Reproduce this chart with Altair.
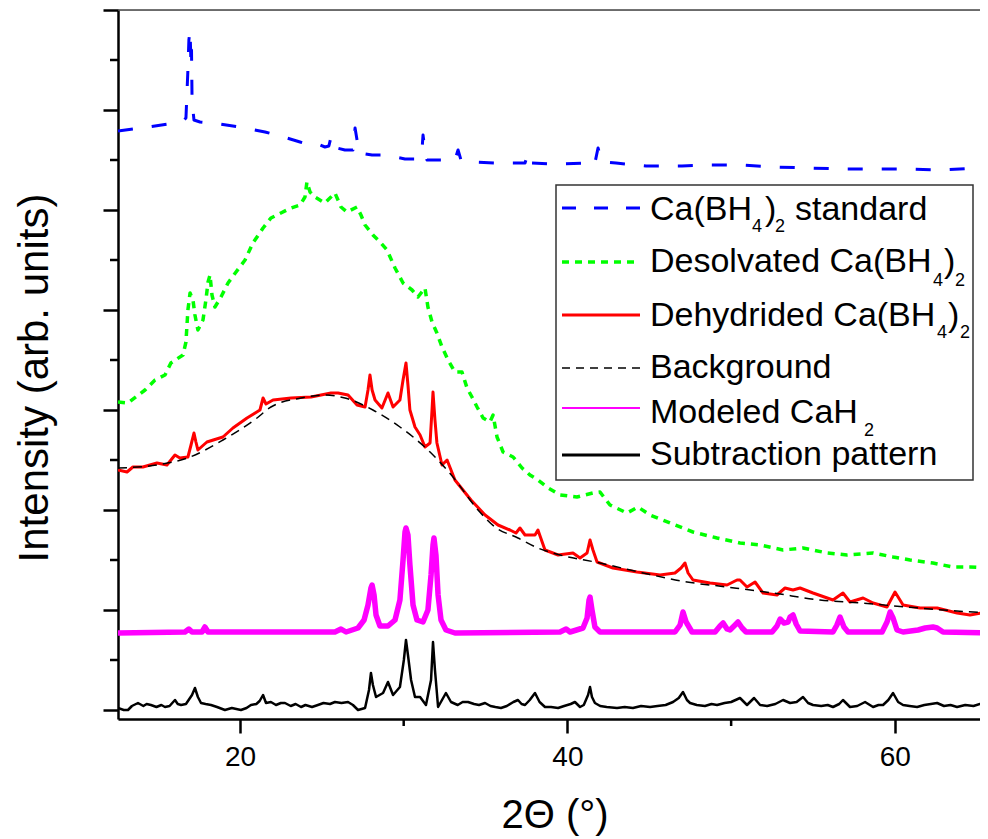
import altair as alt
import pandas as pd

# ---------------- data (2-theta in degrees, intensity in arb. units) ----------------
std_x = [12.55, 14.4, 16.03, 16.52, 16.70, 16.82, 16.88, 16.95, 17.01, 17.04, 17.07, 17.13, 17.19, 17.56, 18.78,
         20.31, 21.53, 22.45, 23.67, 24.28, 24.76, 25.19, 25.43, 25.56, 25.68, 26.41, 26.90, 27.03, 27.15, 27.33,
         28.07, 28.86, 30.08, 30.87, 31.12, 31.18, 31.30, 31.42, 32.22, 33.13, 33.32, 33.50, 34.24, 35.58, 36.37,
         37.41, 37.60, 37.78, 39.06, 39.73, 41.08, 41.50, 41.68, 41.87, 41.99, 42.18, 42.97, 44.80, 47.00, 48.71,
         50.61, 52.62, 54.76, 56.78, 58.79, 60.93, 62.94, 65.02, 65.69]
std_y = [5.79, 5.83, 5.87, 5.89, 5.92, 6.40, 6.70, 6.80, 6.45, 6.60, 6.15, 6.00, 5.90, 5.88, 5.86,
         5.82, 5.78, 5.74, 5.68, 5.65, 5.66, 5.63, 5.64, 5.73, 5.63, 5.60, 5.60, 5.82, 5.70, 5.57,
         5.55, 5.55, 5.51, 5.51, 5.60, 5.75, 5.60, 5.50, 5.50, 5.50, 5.60, 5.50, 5.48, 5.47, 5.47,
         5.47, 5.57, 5.47, 5.46, 5.46, 5.47, 5.50, 5.47, 5.62, 5.55, 5.48, 5.47, 5.44, 5.44, 5.45,
         5.45, 5.43, 5.42, 5.41, 5.41, 5.41, 5.40, 5.42, 5.40]

desolv_x = [12.55, 13.16, 14.20, 14.81, 15.42, 15.78, 16.52, 16.70, 16.82, 16.95, 17.13, 17.25, 17.43, 17.74,
            17.92, 18.05, 18.17, 18.29, 18.47, 18.84, 19.27, 19.76, 20.31, 20.79, 21.41, 21.89, 22.50, 23.12,
            23.67, 23.97, 24.09, 24.28, 24.58, 25.19, 25.80, 26.17, 26.54, 27.15, 27.39, 27.64, 28.12, 28.55,
            28.98, 29.47, 29.96, 30.51, 30.87, 31.30, 31.48, 31.73, 32.03, 32.34, 32.71, 33.13, 33.56, 33.87,
            34.17, 34.48, 34.85, 35.27, 35.46, 35.70, 36.07, 36.68, 37.23, 37.71, 38.20, 38.82, 39.55, 40.58,
            41.56, 41.99, 42.60, 43.64, 44.31, 45.05, 46.27, 47.67, 49.14, 50.54, 51.77, 53.17, 54.39, 55.86,
            57.08, 58.67, 59.89, 60.93, 62.33, 63.55, 64.59, 65.69]
desolv_y = [3.08, 3.07, 3.20, 3.30, 3.35, 3.47, 3.55, 3.68, 4.00, 4.17, 4.10, 3.95, 3.80, 3.90,
            4.10, 4.28, 4.35, 4.15, 4.03, 4.13, 4.27, 4.38, 4.50, 4.67, 4.82, 4.92, 4.97, 5.02,
            5.05, 5.13, 5.28, 5.18, 5.13, 5.07, 5.17, 5.03, 4.98, 5.03, 4.95, 4.85, 4.75, 4.68,
            4.60, 4.42, 4.27, 4.20, 4.13, 4.22, 4.03, 3.88, 3.77, 3.63, 3.50, 3.38, 3.38, 3.22,
            3.13, 3.03, 2.92, 2.88, 2.95, 2.73, 2.58, 2.53, 2.42, 2.35, 2.30, 2.22, 2.15, 2.13,
            2.17, 2.18, 2.05, 1.97, 2.03, 1.95, 1.87, 1.78, 1.72, 1.67, 1.65, 1.60, 1.62, 1.57,
            1.55, 1.57, 1.53, 1.50, 1.47, 1.43, 1.43, 1.42]

dehyd_x = [12.55, 13.10, 13.46, 14.07, 14.93, 15.54, 16.03, 16.33, 16.82, 17.01, 17.19, 17.31, 17.43, 17.98,
           18.96, 19.57, 20.43, 21.22, 21.41, 21.59, 22.02, 23.12, 24.34, 25.56, 25.99, 26.60, 27.15, 27.64,
           27.82, 27.94, 28.07, 28.25, 28.67, 29.04, 29.35, 29.77, 29.96, 30.14, 30.26, 30.38, 30.69, 31.00,
           31.30, 31.61, 31.73, 31.79, 31.91, 32.03, 32.34, 32.65, 33.13, 34.11, 34.97, 35.76, 36.49, 36.86,
           37.10, 37.41, 38.02, 38.20, 38.63, 39.43, 40.34, 40.77, 41.20, 41.38, 41.56, 41.81, 42.78, 44.25,
           45.66, 46.57, 46.94, 47.18, 47.37, 47.67, 48.71, 49.75, 50.36, 50.54, 50.97, 51.46, 51.95, 52.80,
           53.29, 53.78, 54.21, 55.00, 56.22, 56.83, 57.26, 58.06, 58.67, 59.52, 60.01, 60.50, 61.54, 62.58,
           63.80, 64.59, 65.69]
dehyd_y = [2.40, 2.38, 2.43, 2.43, 2.47, 2.45, 2.55, 2.52, 2.53, 2.65, 2.77, 2.68, 2.60, 2.68,
           2.73, 2.82, 2.92, 3.00, 3.12, 3.06, 3.10, 3.12, 3.13, 3.17, 3.17, 3.15, 3.05, 3.03,
           3.20, 3.35, 3.20, 3.10, 3.02, 3.17, 3.03, 3.10, 3.30, 3.47, 3.25, 3.00, 2.83, 2.75,
           2.63, 2.67, 3.00, 3.18, 2.90, 2.67, 2.45, 2.50, 2.30, 2.10, 1.95, 1.85, 1.80, 1.77,
           1.82, 1.75, 1.75, 1.80, 1.60, 1.55, 1.57, 1.52, 1.57, 1.70, 1.60, 1.48, 1.42, 1.38,
           1.35, 1.37, 1.42, 1.47, 1.37, 1.30, 1.27, 1.25, 1.30, 1.30, 1.23, 1.28, 1.17, 1.15,
           1.22, 1.20, 1.22, 1.17, 1.10, 1.17, 1.08, 1.12, 1.07, 1.03, 1.18, 1.05, 1.02, 1.02,
           0.97, 0.95, 0.98]

bg_x = [12.55, 14.93, 16.95, 18.96, 21.04, 21.89, 23.73, 25.19, 26.41, 28.12, 29.77, 31.61, 33.01, 34.54,
        35.58, 36.98, 38.20, 39.55, 41.99, 44.62, 47.31, 49.75, 52.56, 55.43, 57.87, 60.74, 62.94, 65.69]
bg_y = [2.42, 2.45, 2.53, 2.70, 2.92, 3.03, 3.12, 3.15, 3.12, 3.00, 2.83, 2.58, 2.33, 2.00,
        1.83, 1.72, 1.62, 1.55, 1.47, 1.37, 1.28, 1.23, 1.17, 1.10, 1.07, 1.03, 1.00, 0.97]

cah2_x = [12.55, 16.64, 16.88, 17.07, 17.68, 17.86, 18.05, 25.80, 26.17, 26.48, 27.21, 27.58, 27.82, 28.00,
          28.07, 28.19, 28.31, 28.55, 29.04, 29.47, 29.77, 29.96, 30.08, 30.14, 30.26, 30.38, 30.57, 30.81,
          31.18, 31.48, 31.67, 31.79, 31.85, 31.97, 32.10, 32.28, 32.58, 33.13, 39.55, 39.92, 40.16, 40.95,
          41.20, 41.32, 41.38, 41.50, 41.68, 41.99, 46.57, 46.88, 47.06, 47.25, 47.61, 49.02, 49.32, 49.51,
          49.75, 49.93, 50.24, 50.42, 50.67, 50.91, 52.50, 52.80, 52.99, 53.23, 53.48, 53.60, 53.78, 53.97,
          54.21, 56.22, 56.46, 56.65, 56.89, 57.14, 59.22, 59.52, 59.71, 59.89, 60.13, 60.50, 61.42, 61.85,
          62.33, 62.58, 62.94, 65.69]
cah2_y = [0.77, 0.78, 0.81, 0.78, 0.78, 0.83, 0.78, 0.78, 0.81, 0.78, 0.82, 0.90, 1.05, 1.22,
          1.25, 1.15, 0.95, 0.84, 0.84, 0.90, 1.10, 1.50, 1.78, 1.82, 1.75, 1.45, 1.05, 0.90,
          0.88, 1.00, 1.35, 1.65, 1.72, 1.55, 1.15, 0.90, 0.80, 0.77, 0.78, 0.81, 0.78, 0.82,
          0.92, 1.10, 1.13, 1.00, 0.83, 0.78, 0.78, 0.85, 0.98, 0.88, 0.78, 0.78, 0.84, 0.87,
          0.81, 0.80, 0.85, 0.88, 0.82, 0.78, 0.78, 0.84, 0.91, 0.87, 0.88, 0.93, 0.95, 0.86,
          0.79, 0.78, 0.85, 0.93, 0.83, 0.78, 0.78, 0.88, 0.98, 0.92, 0.80, 0.78, 0.80, 0.82,
          0.83, 0.82, 0.78, 0.77]

sub_x = [12.55, 12.90, 13.16, 13.40, 13.77, 14.10, 14.30, 14.56, 14.90, 15.20, 15.42, 15.70, 16.03, 16.20,
         16.40, 16.70, 17.07, 17.25, 17.43, 17.62, 17.90, 18.23, 18.60, 19.08, 19.50, 20.06, 20.40, 20.67,
         21.00, 21.20, 21.41, 21.59, 21.89, 22.20, 22.50, 22.75, 23.10, 23.40, 23.73, 24.00, 24.40, 24.76,
         25.10, 25.50, 25.80, 26.20, 26.60, 26.90, 27.21, 27.64, 27.88, 28.00, 28.12, 28.31, 28.74, 29.04,
         29.23, 29.35, 29.77, 30.01, 30.14, 30.26, 30.45, 30.69, 31.00, 31.36, 31.67, 31.79, 31.91, 32.10,
         32.34, 32.58, 32.89, 33.30, 33.60, 33.93, 34.30, 34.60, 34.97, 35.30, 35.60, 35.94, 36.30, 36.70,
         36.98, 37.20, 37.41, 37.70, 38.02, 38.30, 38.63, 39.00, 39.43, 39.80, 40.20, 40.46, 40.77, 41.00,
         41.26, 41.38, 41.50, 41.68, 42.00, 42.40, 43.03, 43.50, 44.00, 44.50, 45.05, 45.50, 46.00, 46.45,
         46.80, 47.06, 47.30, 47.49, 47.90, 48.40, 48.80, 49.14, 49.60, 50.00, 50.54, 50.97, 51.40, 51.77,
         52.20, 52.70, 53.17, 53.60, 54.00, 54.39, 54.70, 55.00, 55.50, 55.90, 56.22, 56.60, 56.83, 57.26,
         57.70, 58.18, 58.67, 59.00, 59.28, 59.60, 59.89, 60.20, 60.50, 60.90, 61.36, 61.80, 62.20, 62.58,
         63.00, 63.40, 63.80, 64.30, 64.80, 65.20, 65.69]
sub_y = [0.02, 0.00, 0.00, 0.04, 0.07, 0.04, 0.06, 0.05, 0.03, 0.05, 0.03, 0.04, 0.10, 0.06,
         0.05, 0.06, 0.15, 0.22, 0.13, 0.07, 0.06, 0.05, 0.03, 0.00, 0.02, 0.00, 0.02, 0.05,
         0.06, 0.09, 0.15, 0.07, 0.08, 0.05, 0.07, 0.07, 0.04, 0.06, 0.03, 0.05, 0.03, 0.05,
         0.07, 0.06, 0.08, 0.07, 0.08, 0.05, 0.00, 0.02, 0.20, 0.37, 0.25, 0.13, 0.17, 0.28,
         0.20, 0.15, 0.23, 0.50, 0.70, 0.55, 0.30, 0.13, 0.13, 0.05, 0.30, 0.68, 0.40, 0.03,
         0.10, 0.17, 0.08, 0.05, 0.08, 0.08, 0.06, 0.05, 0.07, 0.04, 0.03, 0.02, 0.04, 0.08,
         0.10, 0.06, 0.05, 0.10, 0.17, 0.08, 0.03, 0.03, 0.02, 0.04, 0.06, 0.08, 0.03, 0.05,
         0.15, 0.23, 0.13, 0.07, 0.04, 0.03, 0.02, 0.03, 0.02, 0.04, 0.03, 0.04, 0.05, 0.08,
         0.12, 0.18, 0.10, 0.07, 0.05, 0.04, 0.06, 0.05, 0.07, 0.08, 0.12, 0.05, 0.12, 0.05,
         0.04, 0.06, 0.10, 0.07, 0.08, 0.13, 0.07, 0.05, 0.04, 0.05, 0.03, 0.06, 0.10, 0.03,
         0.04, 0.08, 0.03, 0.05, 0.05, 0.10, 0.17, 0.08, 0.05, 0.04, 0.03, 0.05, 0.06, 0.07,
         0.04, 0.05, 0.03, 0.05, 0.04, 0.06, 0.05]

x_major = [20, 40, 60]
x_minor = [30, 50]
y_major = [0, 1, 2, 3, 4, 5, 6, 7]
y_minor = [0.5, 1.5, 2.5, 3.5, 4.5, 5.5, 6.5]

x_title = "2\u0398 (\u00b0)"
y_title = "Intensity (arb. units)"

FONT = "Liberation Sans"
W, H = 862, 709


def frame(xs, ys):
    return pd.DataFrame({"two_theta": xs, "intensity": ys, "i": list(range(len(xs)))})


X = alt.X("two_theta:Q",
          scale=alt.Scale(domain=[12.55, 65.2], nice=False, zero=False),
          axis=alt.Axis(values=x_major, title=None, grid=False, format="d",
                        domainColor="black", domainWidth=2.5, tickColor="black",
                        tickWidth=2.5, tickSize=14, labelFont=FONT, labelFontSize=28,
                        labelColor="black", labelPadding=10))
Y = alt.Y("intensity:Q",
          scale=alt.Scale(domain=[-0.09, 7.0], nice=False, zero=False),
          axis=alt.Axis(values=y_major, title=None, grid=False, labels=False,
                        domainColor="black", domainWidth=2.5, tickColor="black",
                        tickWidth=2.5, tickSize=15))


def series(xs, ys, color, width, dash=None, interp="linear"):
    kw = dict(color=color, strokeWidth=width, clip=True, interpolate=interp, strokeJoin="round")
    if dash:
        kw["strokeDash"] = dash
    return alt.Chart(frame(xs, ys)).mark_line(**kw).encode(x=X, y=Y, order="i:Q")


layers = [
    series(std_x, std_y, "#0000ff", 3, [15, 19]),
    series(desolv_x, desolv_y, "#00ff00", 3.5, [7, 6]),
    series(dehyd_x, dehyd_y, "#ff0000", 3),
    series(bg_x, bg_y, "black", 1.5, [9, 6], "monotone"),
    series(cah2_x, cah2_y, "#ff00ff", 5.5),
    series(sub_x, sub_y, "black", 2.5),
]

# minor ticks
layers.append(alt.Chart(pd.DataFrame({"intensity": y_minor})).mark_rule(color="black", strokeWidth=2.5)
              .encode(y=Y, x=alt.value(-8), x2=alt.value(0)))
layers.append(alt.Chart(pd.DataFrame({"two_theta": x_minor})).mark_rule(color="black", strokeWidth=2.5)
              .encode(x=X, y=alt.value(H), y2=alt.value(H + 7)))

one = pd.DataFrame({"k": [0]})

# top frame line
layers.append(alt.Chart(one).mark_rule(color="#444444", strokeWidth=1.5)
              .encode(x=alt.value(0), x2=alt.value(W + 2), y=alt.value(0)))

# axis titles
layers.append(alt.Chart(one).mark_text(text=y_title, font=FONT, fontSize=42, angle=270,
                                       align="center", baseline="alphabetic", color="black")
              .encode(x=alt.value(-70), y=alt.value(368)))
layers.append(alt.Chart(one).mark_text(text=x_title, font=FONT, fontSize=40,
                                       align="center", baseline="alphabetic", color="black")
              .encode(x=alt.value(437), y=alt.value(818)))

# legend box
layers.append(alt.Chart(one).mark_rect(fill="white", stroke="#333333", strokeWidth=1.5)
              .encode(x=alt.value(438), x2=alt.value(855), y=alt.value(175), y2=alt.value(470)))

legend_colors = ["#0000ff", "#00ff00", "#ff0000", "black", "#ff00ff", "black"]
legend_widths = [3, 3.5, 3, 1.5, 2, 3]
legend_dash = [[14, 18], [7, 6], None, [8, 6], None, None]
legend_sym_y = [198, 252, 305, 358, 398, 445]
for c, w, d, yy in zip(legend_colors, legend_widths, legend_dash, legend_sym_y):
    kw = dict(color=c, strokeWidth=w)
    if d:
        kw["strokeDash"] = d
    layers.append(alt.Chart(one).mark_rule(**kw)
                  .encode(x=alt.value(444), x2=alt.value(522), y=alt.value(yy)))

# legend text pieces: (text, x, baseline y, size)
legend_text = [
    ("Ca(BH", 532, 210, 34), ("4", 634, 222, 18), (")", 647, 210, 34), ("2", 657, 222, 18),
    ("standard", 677, 210, 34),
    ("Desolvated Ca(BH", 532, 262, 34), ("4", 815, 276, 18), (")", 826, 262, 34), ("2", 837, 276, 18),
    ("Dehydrided Ca(BH", 532, 316, 34), ("4", 819, 328, 18), (")", 830, 316, 34), ("2", 842, 328, 18),
    ("Background", 532, 368, 34),
    ("Modeled CaH", 532, 413, 34), ("2", 746, 426, 18),
    ("Subtraction pattern", 532, 455, 34),
]
for t, xx, yy, fs in legend_text:
    layers.append(alt.Chart(one).mark_text(text=t, font=FONT, fontSize=fs, align="left",
                                           baseline="alphabetic", color="black")
                  .encode(x=alt.value(xx), y=alt.value(yy)))

chart = alt.layer(*layers).properties(
    width=W, height=H,
    autosize=alt.AutoSizeParams(type="none"),
    padding={"left": 110, "top": 2, "right": 0, "bottom": 118},
).configure_view(stroke=None).configure(background="white")

chart.save("out.html", embed_options={"renderer": "svg", "actions": False})
